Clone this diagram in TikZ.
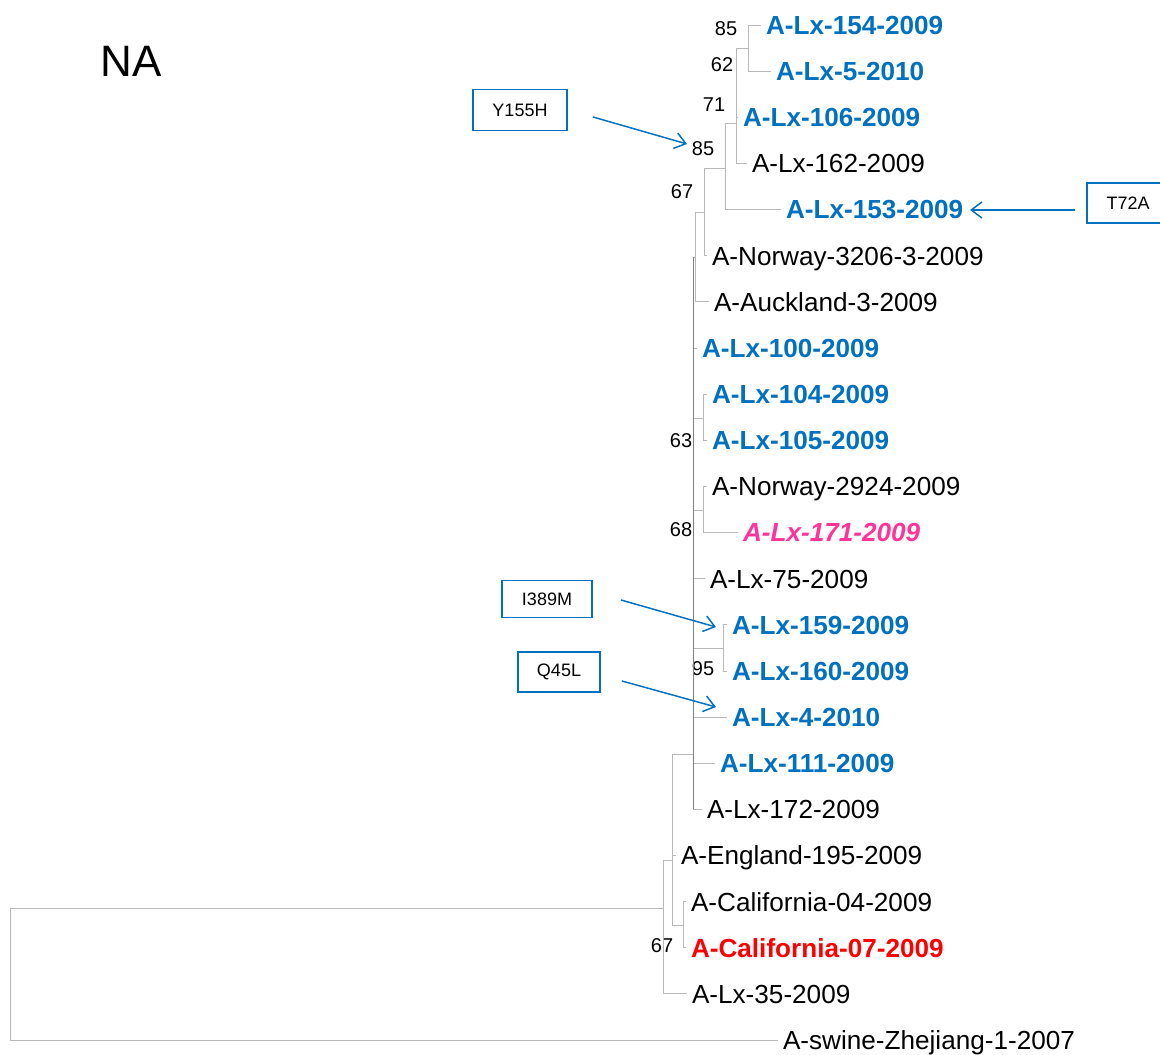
\documentclass[tikz,border=0pt]{standalone}
\usepackage{fontspec}
\setmainfont{Liberation Sans}
\usetikzlibrary{arrows.meta}
\definecolor{lxblue}{HTML}{0070C0}
\definecolor{lxpink}{HTML}{FF3399}
\definecolor{calred}{HTML}{FF0000}

\begin{document}
\begin{tikzpicture}[x=0.75pt,y=-0.75pt]

%BACKGROUND
\fill[white] (0,0) rectangle (1160,1054);
\useasboundingbox (0,0) rectangle (1160,1054);

%%%%%%%%%%%%%%%%%%%%%%%%%%%%%%%%%%%%%%%%%%%%%%%%%%%%%%%%%%%%%%
%styles
\tikzstyle{leaf}=[anchor=west,inner xsep=3.75pt,inner ysep=0pt,outer sep=0pt,text height=14pt,text depth=0pt,font=\fontsize{19.6}{23}\selectfont]
\tikzstyle{leafLx}=[leaf,text=lxblue,font=\fontsize{19.6}{23}\selectfont\bfseries]
\tikzstyle{leafCal}=[leaf,text=calred,font=\fontsize{19.6}{23}\selectfont\bfseries]
\tikzstyle{boot}=[inner sep=0pt,font=\fontsize{15}{18}\selectfont]
\tikzstyle{mut}=[draw=lxblue,line width=1.1pt,inner sep=0pt,font=\fontsize{13.5}{16}\selectfont]
\tikzstyle{branch}=[draw=black!28,line width=0.75pt]
\tikzstyle{pointer}=[->,>={Straight Barb[length=8pt,width=12pt]},draw=lxblue,line width=1.1pt]

%TITLE
\node[font=\fontsize{33}{38}\selectfont] (title) at (131,61) {NA};

%%%%%%%%%%%%%%%%%%%%%%%%%%%%%%%%%%%%%%%%%%%%%%%%%%%%%%%%%%%%%%
%leaves
\node[leafLx] (l154) at (761,25) {A-Lx-154-2009};
\node[leafLx] (l5) at (771,71.1) {A-Lx-5-2010};
\node[leafLx] (l106) at (738,117.3) {A-Lx-106-2009};
\node[leaf] (l162) at (747,163.4) {A-Lx-162-2009};
\node[leafLx] (l153) at (781,209.6) {A-Lx-153-2009};
\node[leaf] (nor3206) at (707,255.7) {A-Norway-3206-3-2009};
\node[leaf] (auck) at (709,301.8) {A-Auckland-3-2009};
\node[leafLx] (l100) at (697,348) {A-Lx-100-2009};
\node[leafLx] (l104) at (707,394.1) {A-Lx-104-2009};
\node[leafLx] (l105) at (707,440.3) {A-Lx-105-2009};
\node[leaf] (nor2924) at (707,486.4) {A-Norway-2924-2009};
\node[leaf,text=lxpink,font=\fontsize{19.6}{23}\selectfont\bfseries\itshape] (l171) at (738,532.5) {A-Lx-171-2009};
\node[leaf] (l75) at (705,578.7) {A-Lx-75-2009};
\node[leafLx] (l159) at (727,624.8) {A-Lx-159-2009};
\node[leafLx] (l160) at (727,671) {A-Lx-160-2009};
\node[leafLx] (l4) at (727,717.1) {A-Lx-4-2010};
\node[leafLx] (l111) at (715,763.2) {A-Lx-111-2009};
\node[leaf] (l172) at (702,809.4) {A-Lx-172-2009};
\node[leaf] (eng) at (676,855.5) {A-England-195-2009};
\node[leaf] (cal04) at (686,901.7) {A-California-04-2009};
\node[leafCal] (cal07) at (686,947.8) {A-California-07-2009};
\node[leaf] (l35) at (687,993.9) {A-Lx-35-2009};
\node[leaf] (zhej) at (778,1040.1) {A-swine-Zhejiang-1-2007};

%inner nodes
\coordinate (nA) at (748,48);
\coordinate (nB) at (736,123);
\coordinate (nC) at (725,168);
\coordinate (nD) at (704,212);
\coordinate (nE) at (695,257);
\coordinate (nF) at (693,754);
\coordinate (nG) at (703,418);
\coordinate (nH) at (703,510);
\coordinate (nI) at (723,648);
\coordinate (nJ) at (672,860);
\coordinate (nK) at (683,925);
\coordinate (nL) at (663,908);
\coordinate (root) at (10,974);

%bootstrap
\node[boot] (b85a) at (726,29) {85};
\node[boot] (b62) at (722,65) {62};
\node[boot] (b71) at (714,105) {71};
\node[boot] (b85b) at (703,149) {85};
\node[boot] (b67a) at (682,192) {67};
\node[boot] (b63) at (681,441) {63};
\node[boot] (b68) at (681,530) {68};
\node[boot] (b95) at (703,669) {95};
\node[boot] (b67b) at (662,946) {67};

%%%%%%%%%%%%%%%%%%%%%%%%%%%%%%%%%%%%%%%%%%%%%%%%%%%%%%%%%%%%%%
%BRANCHES
%A,B,C
\draw[branch] (nA) |- (l154.west);
\draw[branch] (nA) |- (l5.west);
\draw[branch] (nB) |- (nA);
\draw[branch] (nB) |- (l106.west);
\draw[branch] (nB) |- (l162.west);
\draw[branch] (nC) |- (nB);
\draw[branch] (nC) |- (l153.west);
%D,E
\draw[branch] (nD) |- (nC);
\draw[branch] (nD) |- (nor3206.west);
\draw[branch] (nE) |- (nD);
\draw[branch] (nE) |- (auck.west);
%F
\draw[branch] (nF) |- (nE);
\draw[branch] (nF) |- (l100.west);
\draw[branch] (nF) |- (nG);
\draw[branch] (nF) |- (nH);
\draw[branch] (nF) |- (l75.west);
\draw[branch] (nF) |- (nI);
\draw[branch] (nF) |- (l4.west);
\draw[branch] (nF) |- (l111.west);
\draw[branch] (nF) |- (l172.west);
\draw[branch,draw=black!50] (nF |- nE) -- (nF |- l172.west);
%G,H,I
\draw[branch] (nG) |- (l104.west);
\draw[branch] (nG) |- (l105.west);
\draw[branch] (nH) |- (nor2924.west);
\draw[branch] (nH) |- (l171.west);
\draw[branch] (nI) |- (l159.west);
\draw[branch] (nI) |- (l160.west);
%J,K,L
\draw[branch] (nJ) |- (nF);
\draw[branch] (nJ) |- (eng.west);
\draw[branch] (nJ) |- (nK);
\draw[branch] (nK) |- (cal04.west);
\draw[branch] (nK) |- (cal07.west);
\draw[branch] (nL) |- (nJ);
\draw[branch] (nL) |- (l35.west);
%root
\draw[branch] (root) |- (nL);
\draw[branch] (root) |- (zhej.west);

%%%%%%%%%%%%%%%%%%%%%%%%%%%%%%%%%%%%%%%%%%%%%%%%%%%%%%%%%%%%%%
%MUTATIONS
\node[mut,minimum width=70.5pt,minimum height=30.75pt] (y155h) at (520,110) {Y155H};
\node[mut,minimum width=61.5pt,minimum height=30pt] (t72a) at (1128,203) {T72A};
\node[mut,minimum width=67.5pt,minimum height=27.75pt] (i389m) at (547,599) {I389M};
\node[mut,minimum width=61.5pt,minimum height=30pt] (q45l) at (559,672) {Q45L};

\coordinate (y155hTail) at (593,117);
\coordinate (y155hTip) at (687,144);
\coordinate (t72aTail) at (1075,210);
\coordinate (t72aTip) at (970,210);
\coordinate (i389mTail) at (621,600);
\coordinate (i389mTip) at (716,627);
\coordinate (q45lTail) at (622,681);
\coordinate (q45lTip) at (716,707);

\draw[pointer] (y155hTail) -- (y155hTip);
\draw[pointer] (t72aTail) -- (t72aTip);
\draw[pointer] (i389mTail) -- (i389mTip);
\draw[pointer] (q45lTail) -- (q45lTip);
\end{tikzpicture}
\end{document}
